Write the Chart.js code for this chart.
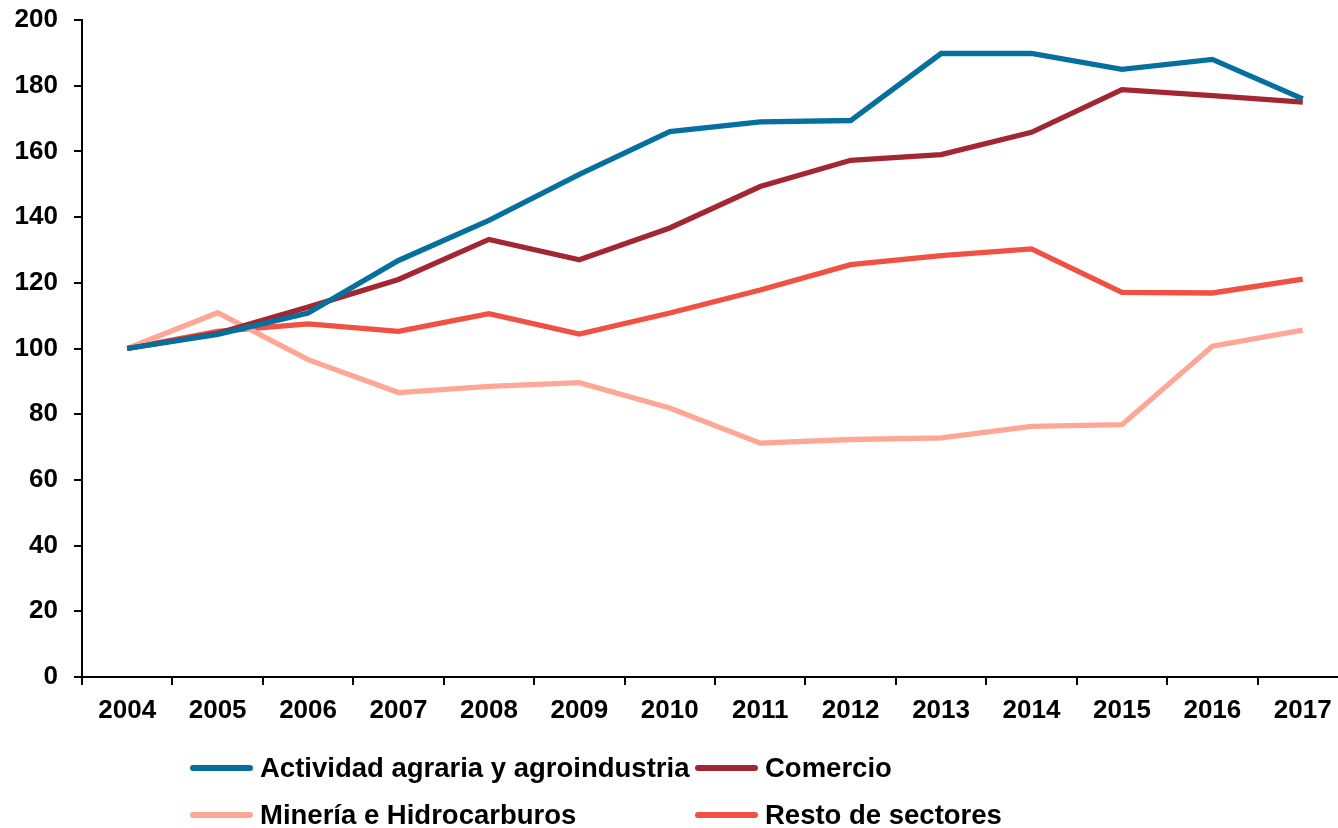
<!DOCTYPE html>
<html>
<head>
<meta charset="utf-8">
<script src="https://cdn.jsdelivr.net/npm/chart.js@4"></script>
<style>
  html, body { margin: 0; padding: 0; background: #fff; overflow: hidden; }
  #wrap { position: relative; width: 1350px; height: 828px; }
  #legend { position: absolute; left: 0; top: 0; width: 1338px; height: 828px; pointer-events: none;
    font: bold 27.5px "Liberation Sans", Arial, sans-serif; color: #000; }
  .item { position: absolute; display: flex; align-items: center; white-space: nowrap; }
  .item .swatch { width: 63px; height: 6px; border-radius: 3px; margin-right: 7px; }
</style>
</head>
<body>
<div id="wrap">
  <canvas id="c" width="1350" height="828"></canvas>
  <div id="legend"></div>
</div>
<script>
const years = ["2004", "2005", "2006", "2007", "2008", "2009", "2010", "2011", "2012", "2013", "2014", "2015", "2016", "2017"];

const agraria = [100, 104.3, 110.8, 126.8, 139, 153, 166, 169, 169.4, 189.8, 189.8, 185, 188, 176];
const comercio = [100, 104.6, 112.6, 121, 133.2, 127, 136.7, 149.3, 157.3, 159, 165.8, 178.8, 177, 175];
const mineria = [100, 110.9, 96.6, 86.6, 88.5, 89.6, 81.9, 71.2, 72.3, 72.8, 76.3, 76.8, 100.7, 105.6];
const resto = [100, 105.2, 107.5, 105.2, 110.6, 104.4, 110.8, 117.8, 125.5, 128.3, 130.3, 117.1, 116.9, 121.1];

const series = [
  {label: "Actividad agraria y agroindustria", data: agraria, color: "#05709e"},
  {label: "Comercio", data: comercio, color: "#a32733"},
  {label: "Minería e Hidrocarburos", data: mineria, color: "#fea797"},
  {label: "Resto de sectores", data: resto, color: "#f05142"},
];

const FONT = {family: "'Liberation Sans', Arial, sans-serif", size: 26, weight: "bold"};

new Chart(document.getElementById("c"), {
  type: "line",
  data: {
    labels: years,
    datasets: series.map((s) => ({
      label: s.label,
      data: s.data,
      borderColor: s.color,
      backgroundColor: s.color,
      borderWidth: 5.3,
      pointRadius: 0,
      tension: 0,
      fill: false,
    })),
  },
  options: {
    responsive: false,
    animation: false,
    layout: {padding: {top: 20, right: 2, bottom: 91, left: 0}},
    plugins: {legend: {display: false}, tooltip: {enabled: false}},
    scales: {
      x: {
        offset: true,
        afterFit: (s) => { s.height = 60; s.paddingLeft = 0; s.paddingRight = 0; },
        grid: {offset: true, drawOnChartArea: false, drawTicks: true, tickLength: 8, color: "#000", lineWidth: 2},
        border: {display: true, color: "#000", width: 2},
        ticks: {color: "#000", font: FONT, padding: 10, maxRotation: 0, autoSkip: false},
      },
      y: {
        min: 0,
        max: 200,
        // fixed axis box so the plot area lands where the original's does
        afterFit: (s) => { s.width = 82; s.paddingTop = 0; s.paddingBottom = 0; },
        grid: {drawOnChartArea: false, drawTicks: true, tickLength: 8, color: "#000", lineWidth: 2},
        border: {display: true, color: "#000", width: 2},
        ticks: {stepSize: 20, color: "#000", font: FONT, padding: 16},
      },
    },
  },
});

// Two-column legend under the axis, same grid as the original.
const legend = document.getElementById("legend");
const slots = [[190, 768], [695, 768], [190, 815], [695, 815]];
series.forEach((s, i) => {
  const item = document.createElement("div");
  item.className = "item";
  item.style.left = slots[i][0] + "px";
  item.style.top = (slots[i][1] - 16) + "px";
  item.style.height = "32px";
  const sw = document.createElement("span");
  sw.className = "swatch";
  sw.style.background = s.color;
  const tx = document.createElement("span");
  tx.textContent = s.label;
  item.append(sw, tx);
  legend.append(item);
});
</script>
</body>
</html>
